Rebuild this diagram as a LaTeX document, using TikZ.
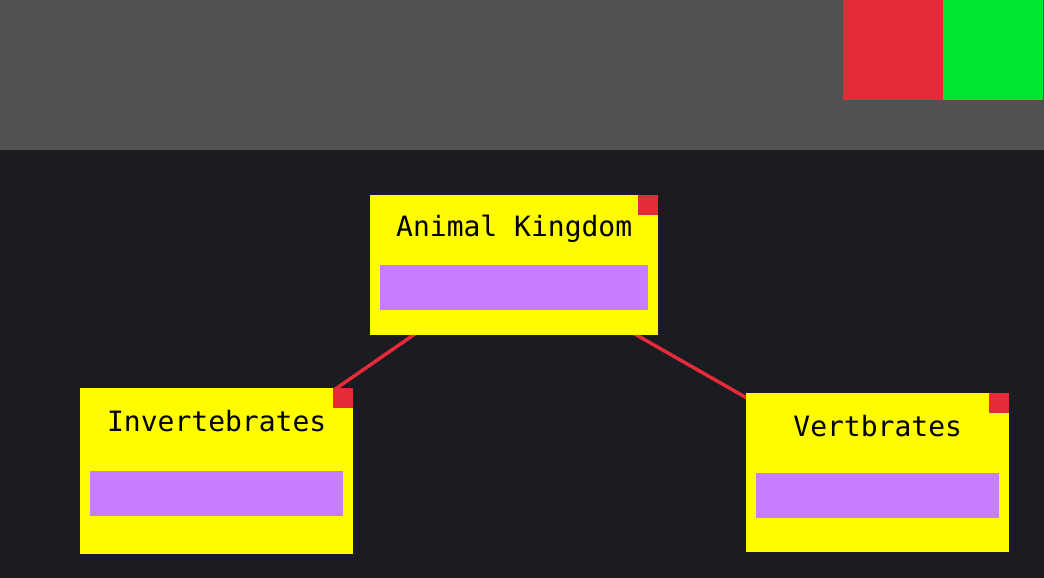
\documentclass[tikz,border=0pt]{standalone}
\usepackage{fontspec}
\setmonofont{DejaVu Sans Mono}
\usetikzlibrary{positioning,backgrounds}
\definecolor{bgdark}{HTML}{1B1C21}
\definecolor{bargray}{HTML}{515151}
\definecolor{btnred}{HTML}{E52A3A}
\definecolor{btngreen}{HTML}{00E532}
\definecolor{cardyellow}{HTML}{FFFC00}
\definecolor{barpurple}{HTML}{C77DFF}

\begin{document}
\begin{tikzpicture}[x=1pt, y=-1pt,
  card/.style={fill=cardyellow, inner sep=0pt, anchor=north west},
  corner/.style={fill=btnred, inner sep=0pt, minimum size=20pt, anchor=north east},
  title/.style={inner sep=0pt, text=black, font=\ttfamily\fontsize{28}{28}\selectfont},
  bar/.style={fill=barpurple, inner sep=0pt, minimum height=45pt, anchor=north},
  link/.style={btnred, line width=3.5pt}]
\useasboundingbox (0,0) rectangle (1044,578);
% Top bar
\fill[bargray] (0,0) rectangle (1044,150);
\fill[btnred] (843,0) rectangle (943,100);
\fill[btngreen] (943,0) rectangle (1043,100);
% Cards
\node[card, minimum width=288pt, minimum height=140pt] (animal) at (370,195) {};
\node[card, minimum width=273pt, minimum height=166pt] (invert) at (80,388) {};
\node[card, minimum width=263pt, minimum height=159pt] (vert) at (746,393) {};
% Corners
\foreach \c in {animal,invert,vert}
    \node[corner] (\c x) at (\c.north east) {};
% Titles
\node[title] (animaltitle) at ([yshift=-34pt]animal.north) {Animal Kingdom};
\node[title] (inverttitle) at ([yshift=-33pt]invert.north) {Invertebrates};
\node[title] (verttitle) at ([yshift=-33pt]vert.north) {Vertbrates};
% Bars
\node[bar, minimum width=268pt] (animalbar) at ([yshift=-70pt]animal.north) {};
\node[bar, minimum width=253pt] (invertbar) at ([yshift=-83pt]invert.north) {};
\node[bar, minimum width=243pt] (vertbar) at ([yshift=-80pt]vert.north) {};
% Links
\begin{scope}[on background layer]
\fill[bgdark] (0,150) rectangle (1044,578);
\draw[link] (animal.center) -- (invert.center);
\draw[link] (animal.center) -- (vert.center);
\end{scope}
\end{tikzpicture}
\end{document}
